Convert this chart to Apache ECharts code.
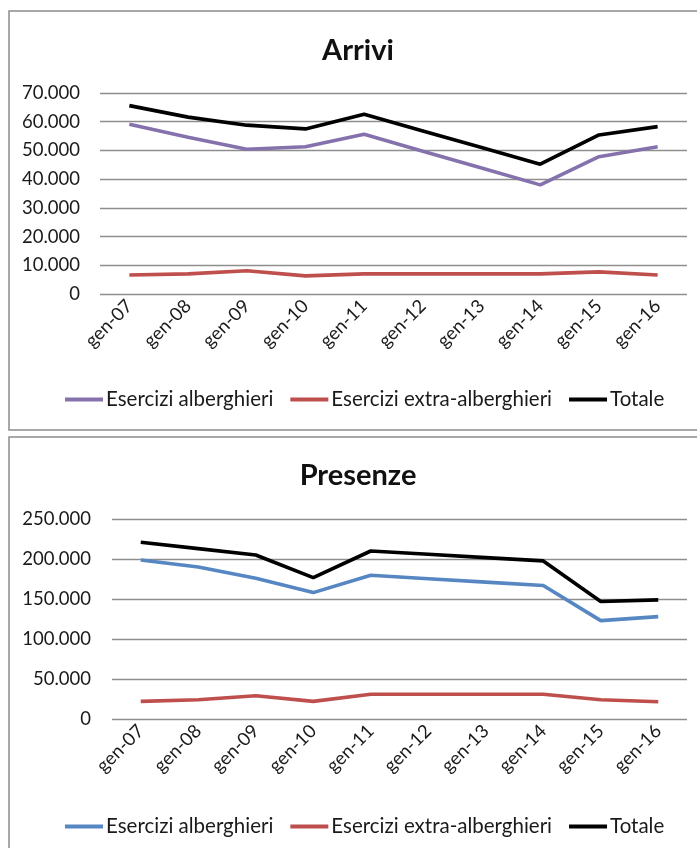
<!DOCTYPE html>
<html>
<head>
<meta charset="utf-8">
<script src="https://cdn.jsdelivr.net/npm/echarts@6/dist/echarts.min.js"></script>
<style>
  html, body { margin: 0; padding: 0; background: #fff; overflow: hidden; }
  #arrivi { position: absolute; left: 0; top: 0; width: 697px; height: 434px; }
  #presenze { position: absolute; left: 0; top: 434px; width: 697px; height: 414px; }
</style>
</head>
<body>
<div id="arrivi"></div>
<div id="presenze"></div>
<script>
// Months (January of each year)
const categories = ['gen-07', 'gen-08', 'gen-09', 'gen-10', 'gen-11', 'gen-12', 'gen-13', 'gen-14', 'gen-15', 'gen-16'];
const seriesNames = ['Esercizi alberghieri', 'Esercizi extra-alberghieri', 'Totale'];

// Arrivals
const arriviAlberghieri = [59100, 54600, 50400, 51300, 55600, 49700, 43900, 38000, 47800, 51300];
const arriviExtra       = [6600, 7000, 8100, 6300, 7000, 7000, 7000, 7000, 7700, 6600];
const arriviTotale      = [65600, 61600, 58800, 57500, 62600, 56800, 51000, 45200, 55400, 58300];

// Overnight stays
const presenzeAlberghieri = [198800, 190000, 176000, 158000, 179700, 175400, 171100, 166800, 123000, 128000];
const presenzeExtra       = [22000, 24000, 29000, 22000, 31000, 31000, 31000, 31000, 24000, 21600];
const presenzeTotale      = [220900, 213000, 205000, 176700, 210000, 205900, 201700, 197600, 146800, 148900];

const FONT = 'Lato, "Noto Sans", sans-serif';
const TEXT = '#1a1a1a';
const GRIDLINE = '#8e8e8e';

function thousands(v) {
  return String(v).replace(/\B(?=(\d{3})+(?!\d))/g, '.');
}

function buildOption(cfg) {
  return {
    animation: false,
    backgroundColor: '#fff',
    graphic: [
      {
        type: 'rect',
        shape: cfg.frame,
        style: { fill: 'none', stroke: '#8c8c8c', lineWidth: 1.5 },
        silent: true
      },
      {
        type: 'text',
        x: 358,
        y: cfg.titleY,
        style: {
          text: cfg.title,
          font: 'bold 29px ' + FONT,
          fill: '#111',
          textAlign: 'center',
          textVerticalAlign: 'middle'
        }
      }
    ],
    legend: {
      left: 60,
      top: cfg.legendTop,
      icon: 'rect',
      itemWidth: 38,
      itemHeight: 4,
      itemGap: 17,
      data: seriesNames,
      textStyle: { fontFamily: FONT, fontSize: 20.5, color: TEXT, padding: [0, 0, 0, -2] }
    },
    grid: cfg.grid,
    xAxis: {
      type: 'category',
      data: categories,
      boundaryGap: true,
      axisLine: { show: false },
      axisTick: { show: false },
      axisLabel: {
        interval: 0,
        rotate: 45,
        margin: 9,
        fontFamily: FONT,
        fontSize: 18.5,
        color: TEXT
      }
    },
    yAxis: {
      type: 'value',
      min: 0,
      max: cfg.yMax,
      interval: cfg.yStep,
      axisLine: { show: false },
      axisTick: { show: false },
      splitLine: { lineStyle: { color: GRIDLINE, width: 1.3 } },
      axisLabel: {
        margin: cfg.labelMargin,
        fontFamily: FONT,
        fontSize: 18.5,
        color: TEXT,
        formatter: thousands
      }
    },
    series: cfg.values.map((vals, i) => ({
      name: seriesNames[i],
      type: 'line',
      data: vals,
      symbol: 'none',
      color: cfg.colors[i],
      lineStyle: { width: 3.6, color: cfg.colors[i] }
    }))
  };
}

const chartArrivi = echarts.init(document.getElementById('arrivi'), null, { renderer: 'canvas' });
chartArrivi.setOption(buildOption({
  title: 'Arrivi',
  titleY: 51,
  frame: { x: 9, y: 11, width: 760, height: 419 },
  grid: { left: 100, top: 93, width: 587, height: 201 },
  yMax: 70000,
  yStep: 10000,
  labelMargin: 20,
  legendTop: 384,
  colors: ['#8572ad', '#be4f4c', '#000000'],
  values: [arriviAlberghieri, arriviExtra, arriviTotale]
}));

const chartPresenze = echarts.init(document.getElementById('presenze'), null, { renderer: 'canvas' });
chartPresenze.setOption(buildOption({
  title: 'Presenze',
  titleY: 42,
  frame: { x: 9, y: 3, width: 760, height: 460 },
  grid: { left: 112, top: 85, width: 575, height: 200 },
  yMax: 250000,
  yStep: 50000,
  labelMargin: 21,
  legendTop: 377,
  colors: ['#5687c2', '#be4f4c', '#000000'],
  values: [presenzeAlberghieri, presenzeExtra, presenzeTotale]
}));
</script>
</body>
</html>
